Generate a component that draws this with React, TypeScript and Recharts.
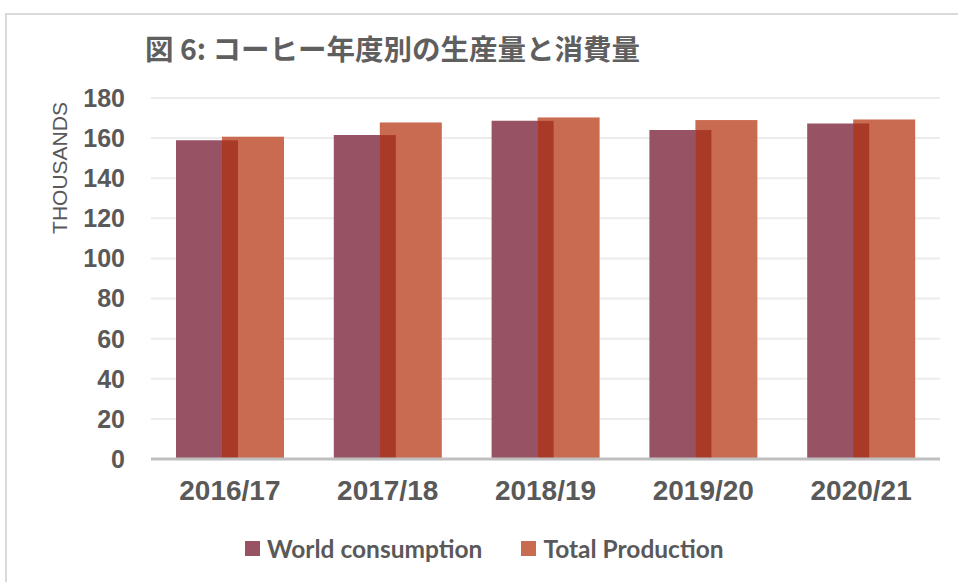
import React from 'react';
import { BarChart, Bar, XAxis, YAxis, CartesianGrid } from 'recharts';

const categories = ['2016/17', '2017/18', '2018/19', '2019/20', '2020/21'];
const worldConsumption = [158.9, 161.5, 168.6, 164.0, 167.3];
const totalProduction = [160.7, 167.8, 170.3, 169.0, 169.3];
const yTicks = [0, 20, 40, 60, 80, 100, 120, 140, 160, 180];

const data = categories.map((c, i) => ({
  year: c,
  consumption: worldConsumption[i],
  production: totalProduction[i],
}));

const CONS_COLOR = '#975264';
const PROD_COLOR = '#c96b50';
const OVERLAP_COLOR = '#a83a27';
const BAR_SIZE = 62;
const OVERLAP = 16;

function ProductionShape(props: any) {
  const { x, y, width, height, payload, fill } = props;
  const ratio = payload.consumption / payload.production;
  const oh = height * ratio;
  return (
    <g>
      <rect x={x} y={y} width={width} height={height} fill={fill} />
      <rect x={x} y={y + height - oh} width={OVERLAP} height={oh} fill={OVERLAP_COLOR} />
    </g>
  );
}

const labelFont = '"Liberation Sans", Arial, sans-serif';

export default function App() {
  return (
    <div style={{ position: 'absolute', left: 0, top: 0, width: 958, height: 582, overflow: 'hidden', background: '#fff' }}>
      <div style={{ position: 'absolute', left: 5, top: 13, width: 1000, height: 1000, border: '2px solid #d9d9d9', boxSizing: 'border-box' }} />
      <div style={{ position: 'absolute', left: 145, top: 29, fontFamily: '"Noto Sans CJK JP", sans-serif', fontSize: 28.5, fontWeight: 'bold', color: '#5f5f5f', whiteSpace: 'nowrap', lineHeight: '38px' }}>
        図 6: コーヒー年度別の生産量と消費量
      </div>
      <div style={{ position: 'absolute', left: 60, top: 168, transform: 'translate(-50%, -50%) rotate(-90deg)', fontFamily: labelFont, fontSize: 21, color: '#595959', whiteSpace: 'nowrap' }}>
        THOUSANDS
      </div>
      <div style={{ position: 'absolute', left: 0, top: 0 }}>
        <BarChart width={958} height={582} data={data} margin={{ top: 98, right: 18, bottom: 63, left: 0 }} barSize={BAR_SIZE} barGap={-OVERLAP}>
          <CartesianGrid horizontal vertical={false} stroke="#ececec" strokeWidth={2} />
          <XAxis
            dataKey="year"
            axisLine={{ stroke: '#bfbfbf', strokeWidth: 3 }}
            tickLine={false}
            tickSize={0}
            tickMargin={21}
            height={60}
            tick={{ fill: '#595959', fontSize: 28, fontWeight: 'bold', fontFamily: labelFont }}
          />
          <YAxis
            domain={[0, 180]}
            ticks={yTicks}
            axisLine={false}
            tickLine={false}
            tickSize={0}
            tickMargin={26}
            width={151}
            tick={{ fill: '#595959', fontSize: 25, fontWeight: 'bold', fontFamily: labelFont }}
          />
          <Bar dataKey="consumption" name="World consumption" fill={CONS_COLOR} isAnimationActive={false} />
          <Bar dataKey="production" name="Total Production" fill={PROD_COLOR} shape={ProductionShape} isAnimationActive={false} />
        </BarChart>
      </div>
      <div style={{ position: 'absolute', left: 245, top: 533, display: 'flex', alignItems: 'center', fontFamily: 'Lato, "Noto Sans", sans-serif', fontWeight: 'bold', fontSize: 24.5, color: '#595959', whiteSpace: 'nowrap', height: 30 }}>
        <span style={{ width: 15, height: 15, background: CONS_COLOR, display: 'inline-block', marginRight: 7 }} />
        <span>World consumption</span>
        <span style={{ width: 15, height: 15, background: PROD_COLOR, display: 'inline-block', marginLeft: 39, marginRight: 7 }} />
        <span>Total Production</span>
      </div>
    </div>
  );
}
